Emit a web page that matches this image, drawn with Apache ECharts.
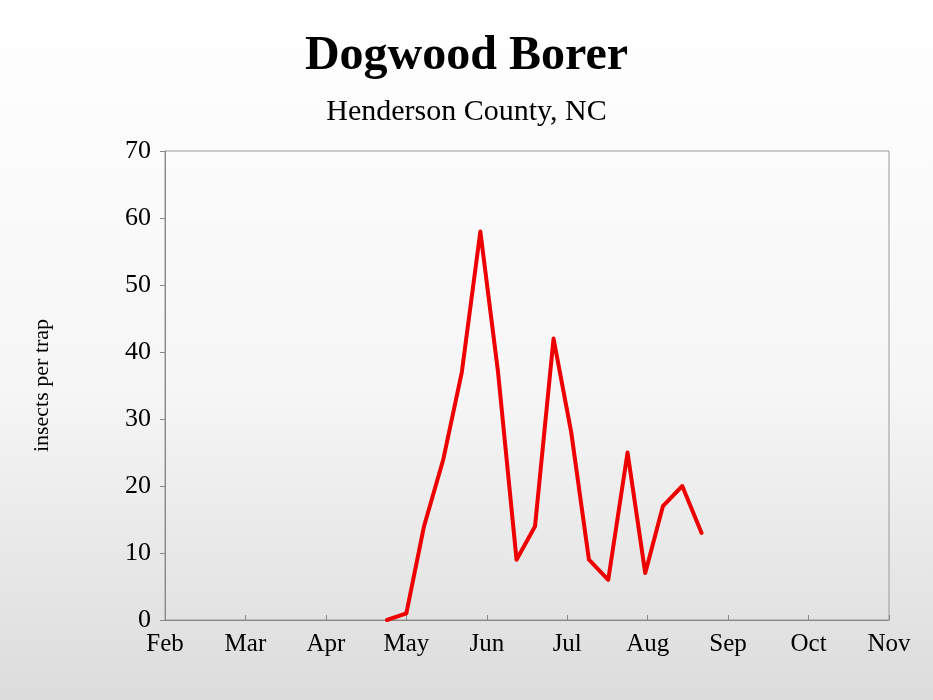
<!DOCTYPE html>
<html><head><meta charset="utf-8">
<script src="https://cdn.jsdelivr.net/npm/echarts@6/dist/echarts.min.js"></script>
<style>html,body{margin:0;padding:0;}#c{width:933px;height:700px;background:linear-gradient(#ffffff 0%,#f6f6f6 55%,#dcdcdc 100%);}</style>
</head><body><div id="c"></div>
<script>
var months = ['Feb', 'Mar', 'Apr', 'May', 'Jun', 'Jul', 'Aug', 'Sep', 'Oct', 'Nov'];
// x position in months since Feb 1
var sampleDates = [2.76, 3.0, 3.22, 3.46, 3.69, 3.92, 4.14, 4.37, 4.60, 4.83, 5.05, 5.27, 5.51, 5.75, 5.97, 6.19, 6.43, 6.67];
var counts = [0, 1, 14, 24, 37, 58, 37, 9, 14, 42, 28, 9, 6, 25, 7, 17, 20, 13];

var chart = echarts.init(document.getElementById('c'));
var font = 'Liberation Serif';
chart.setOption({
    title: [
        {text: 'Dogwood Borer', left: 'center', top: 28, textStyle: {fontFamily: font, fontSize: 48, fontWeight: 'bold', color: '#000', letterSpacing: 1}},
        {text: 'Henderson County, NC', left: 'center', top: 92, textStyle: {fontFamily: font, fontSize: 30, fontWeight: 'normal', color: '#000', letterSpacing: 1.5}}
    ],
    grid: {left: 165, right: 44, top: 151, bottom: 80, show: true, borderColor: '#999', borderWidth: 1},
    xAxis: {
        type: 'value', min: 0, max: 9, interval: 1,
        axisLine: {show: true, lineStyle: {color: '#888'}},
        axisTick: {show: true, inside: true, length: 5, lineStyle: {color: '#888'}},
        splitLine: {show: false},
        axisLabel: {fontFamily: font, fontSize: 25, color: '#000', margin: 12, formatter: function (v) { return months[v]; }}
    },
    yAxis: {
        type: 'value', min: 0, max: 70, interval: 10,
        name: 'insects per trap', nameLocation: 'middle', nameGap: 112, nameRotate: 90,
        nameTextStyle: {fontFamily: font, fontSize: 22, color: '#000'},
        axisLine: {show: true, lineStyle: {color: '#888'}},
        axisTick: {show: true, length: 5, lineStyle: {color: '#888'}},
        splitLine: {show: false},
        axisLabel: {fontFamily: font, fontSize: 26, color: '#000', margin: 14}
    },
    series: [{
        type: 'line', symbol: 'none',
        data: sampleDates.map(function (d, i) { return [d, counts[i]]; }),
        lineStyle: {color: '#ee0000', width: 4, cap: 'round', join: 'round'}
    }]
});
</script></body></html>
